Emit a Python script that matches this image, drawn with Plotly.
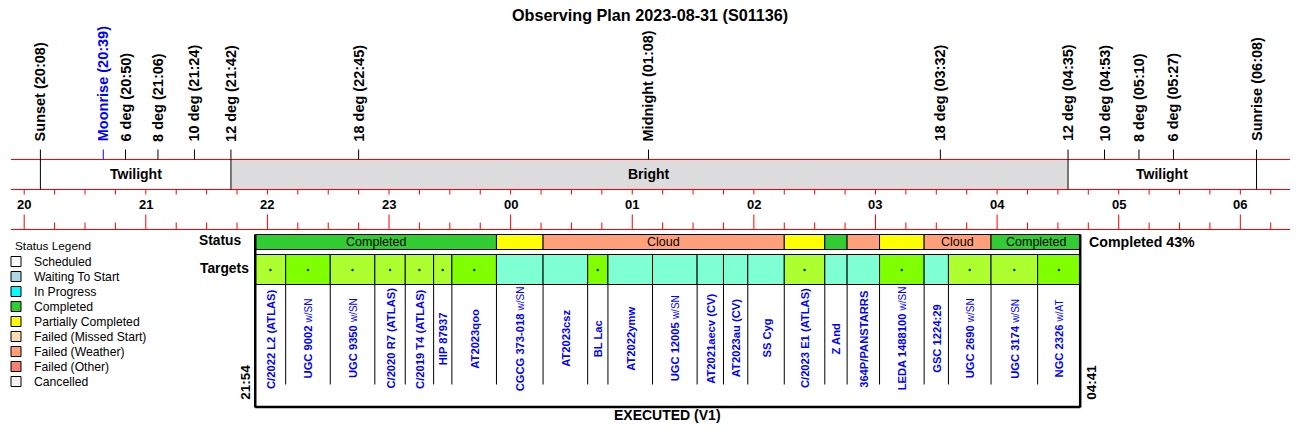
import plotly.graph_objects as go

# ---------------- data ----------------
title_text = "Observing Plan 2023-08-31 (S01136)"

event_names = ["Sunset", "Moonrise", "6 deg", "8 deg", "10 deg", "12 deg", "18 deg",
               "Midnight", "18 deg", "12 deg", "10 deg", "8 deg", "6 deg", "Sunrise"]
event_times = ["20:08", "20:39", "20:50", "21:06", "21:24", "21:42", "22:45",
               "01:08", "03:32", "04:35", "04:53", "05:10", "05:27", "06:08"]
event_is_moon = [False, True, False, False, False, False, False,
                 False, False, False, False, False, False, False]
event_through_band = [True, False, False, False, False, True, False,
                      False, False, True, False, False, False, True]

band_names = ["Twilight", "Bright", "Twilight"]
band_starts = ["20:08", "21:42", "04:35"]
band_ends = ["21:42", "04:35", "06:08"]
band_shaded = [False, True, False]

hour_labels = ["20", "21", "22", "23", "00", "01", "02", "03", "04", "05", "06"]
window_start = "19:53"
window_end = "06:25"

status_bounds = ["21:54", "23:53", "00:16", "02:15", "02:35", "02:46", "03:02", "03:24", "03:57", "04:41"]
status_kind = ["Completed", "Partially Completed", "Failed (Weather)", "Partially Completed",
               "Completed", "Failed (Weather)", "Partially Completed", "Failed (Weather)", "Completed"]
status_text = ["Completed", "", "Cloud", "", "", "", "", "Cloud", "Completed"]

target_bounds = ["21:54", "22:09", "22:31", "22:53", "23:08", "23:22", "23:31", "23:53",
                 "00:16", "00:38", "00:48", "01:10", "01:32", "01:45", "01:57", "02:15",
                 "02:35", "02:46", "03:02", "03:24", "03:36", "03:57", "04:20", "04:41"]
target_names = ["C/2022 L2 (ATLAS)", "UGC 9002|w/SN", "UGC 9350|w/SN", "C/2020 R7 (ATLAS)",
                "C/2019 T4 (ATLAS)", "HIP 87937", "AT2023qoo", "CGCG 373-018|w/SN",
                "AT2023csz", "BL Lac", "AT2022ymw", "UGC 12005|w/SN", "AT2021aecv (CV)",
                "AT2023au (CV)", "SS Cyg", "C/2023 E1 (ATLAS)", "Z And", "364P/PANSTARRS",
                "LEDA 1488100|w/SN", "GSC 1224:29", "UGC 2690|w/SN", "UGC 3174|w/SN",
                "NGC 2326|w/AT"]
target_grade = ["good", "best", "good", "good", "good", "good", "best", "none",
                "none", "best", "none", "none", "none", "none", "none", "good",
                "none", "none", "best", "none", "good", "good", "best"]

completed_pct = 43
plan_label = "EXECUTED (V1)"

legend_title = "Status Legend"
legend_items = ["Scheduled", "Waiting To Start", "In Progress", "Completed", "Partially Completed",
                "Failed (Missed Start)", "Failed (Weather)", "Failed (Other)", "Cancelled"]

# ---------------- styles ----------------
FONT = "Liberation Sans, Arial, sans-serif"
status_colors = {
    "Scheduled": "#FFFFFF", "Waiting To Start": "#ADD8E6", "In Progress": "#00FFFF",
    "Completed": "#32CD32", "Partially Completed": "#FFFF00", "Failed (Missed Start)": "#FFDAB9",
    "Failed (Weather)": "#FFA07A", "Failed (Other)": "#FA8072", "Cancelled": "#F5F5F5",
}
grade_colors = {"good": "#ADFF2F", "best": "#7FFF00", "none": "#7FFFD4"}
RED = "#FF0000"
W = 1300
H = 438


def hrs(s):
    h, m = map(int, s.split(":"))
    v = h + m / 60.0
    if v < 12:
        v += 24
    return v - 20


t0 = hrs(window_start) + 0.008
t1 = hrs(window_end) - 0.008

shapes = []
annotations = []
fig = go.Figure()


def line(x0, y0, x1, y1, color="black", width=1, xref="x"):
    shapes.append(dict(type="line", xref=xref, yref="y", x0=x0, x1=x1, y0=y0, y1=y1,
                       line=dict(color=color, width=width)))


def rect(x0, y0, x1, y1, fill, lc="black", lw=1, xref="x"):
    shapes.append(dict(type="rect", xref=xref, yref="y", x0=x0, x1=x1, y0=y0, y1=y1,
                       fillcolor=fill, line=dict(color=lc, width=lw), layer="below"))


def text(x, y, s, size=12, bold=False, color="black", xanchor="center", yanchor="middle",
         angle=0, xref="x", xshift=0):
    annotations.append(dict(x=x, y=y, xref=xref, yref="y", text=(f"<b>{s}</b>" if bold else s),
                            showarrow=False, xanchor=xanchor, yanchor=yanchor, textangle=angle,
                            font=dict(family=FONT, size=size, color=color), xshift=xshift,
                            borderpad=0))


# title
text(0.5, 15, title_text, size=16.2, bold=True, xref="paper")

# bands
for name, s, e, sh in zip(band_names, band_starts, band_ends, band_shaded):
    if sh:
        rect(hrs(s), 160, hrs(e), 190, "#DCDCDC", lc="rgba(0,0,0,0)", lw=0)
    text((hrs(s) + hrs(e)) / 2, 174.5, name, size=14, bold=True)

# red horizontal lines
for yy in (160, 190, 230):
    line(t0, yy, t1, yy, color=RED, width=1)

# quarter-hour ticks
q = 0
while q / 4 <= t1:
    tx = q / 4
    if tx >= t0:
        line(tx, 190, tx, 195, color=RED)
        if q % 4 == 0:
            line(tx, 215, tx, 230, color=RED)
        else:
            line(tx, 223, tx, 230, color=RED)
    q += 1

# hour labels
for i, lab in enumerate(hour_labels):
    text(i, 204.5, lab, size=13, bold=True)

# events
for name, t, moon, thru in zip(event_names, event_times, event_is_moon, event_through_band):
    col = "#0000FF" if moon else "black"
    x = hrs(t)
    line(x, 150, x, 190 if thru else 160, color=col)
    text(x, 143, f"{name} ({t})", size=14.5, bold=True, color=col, yanchor="bottom", angle=-90)

# status row
sb = [hrs(s) for s in status_bounds]
for i, kind in enumerate(status_kind):
    rect(sb[i], 235, sb[i + 1], 250, status_colors[kind])
    if status_text[i]:
        text((sb[i] + sb[i + 1]) / 2, 242.5, status_text[i], size=12.5)

# targets row
tb = [hrs(s) for s in target_bounds]
dot_x = []
for i, g in enumerate(target_grade):
    rect(tb[i], 255, tb[i + 1], 285, grade_colors[g])
    if g != "none":
        dot_x.append((tb[i] + tb[i + 1]) / 2)
    nm = target_names[i]
    if "|" in nm:
        a, b = nm.split("|")
        lab = f"<b>{a}</b> <span style='font-size:10px'>{b}</span>"
    else:
        lab = f"<b>{nm}</b>"
    annotations.append(dict(x=(tb[i] + tb[i + 1]) / 2, y=339, xref="x", yref="y", text=lab,
                            showarrow=False, textangle=-90, borderpad=0,
                            font=dict(family=FONT, size=11.2, color="#0000FF")))
for x in tb[1:-1]:
    line(x, 285, x, 385, color="black")

fig.add_trace(go.Scatter(x=dot_x, y=[270.5] * len(dot_x), mode="markers",
                         marker=dict(size=2.5, color="#1a3a00"), hoverinfo="skip"))

# outer box
line(tb[0], 235, tb[0], 408, width=2.5)
line(tb[-1], 235, tb[-1], 408, width=2.5)
line(tb[0], 407.5, tb[-1], 407.5, width=2.5)
line(tb[0], 250, tb[-1], 250, width=1)

text(tb[0], 401, status_bounds[0], size=13.5, bold=True, angle=-90, xanchor="right",
     yanchor="bottom", xshift=-2)
text(tb[-1], 401, status_bounds[-1], size=13.5, bold=True, angle=-90, xanchor="left",
     yanchor="bottom", xshift=2)
text((tb[0] + tb[-1]) / 2, 415, plan_label, size=14, bold=True)
text(tb[-1], 242, f"Completed {completed_pct}%", size=14.2, bold=True, xanchor="left", xshift=8)

# row labels
text(242 / W, 241, "Status", size=13.8, bold=True, xanchor="right", xref="paper")
text(250 / W, 269, "Targets", size=13.8, bold=True, xanchor="right", xref="paper")

# legend
text(14 / W, 246, legend_title, size=11.8, xanchor="left", xref="paper")
for i, item in enumerate(legend_items):
    yy = 262 + 15 * i
    rect(11 / W, yy - 5, 21 / W, yy + 5, status_colors[item], xref="paper")
    text(33 / W, yy, item, size=12.2, xanchor="left", xref="paper")

fig.update_layout(
    width=W, height=H, autosize=False,
    margin=dict(l=0, r=0, t=0, b=0, pad=0),
    paper_bgcolor="white", plot_bgcolor="white",
    showlegend=False,
    xaxis=dict(range=[t0 - 0.008, t1 + 0.008], domain=[10 / W, 1291 / W], visible=False,
               fixedrange=True),
    yaxis=dict(range=[H + 0.5, 0.5], domain=[0, 1], visible=False, fixedrange=True),
    shapes=shapes, annotations=annotations,
)

fig.write_html("out.html", config={"displayModeBar": False},
               post_script="document.body.style.margin='0';")
